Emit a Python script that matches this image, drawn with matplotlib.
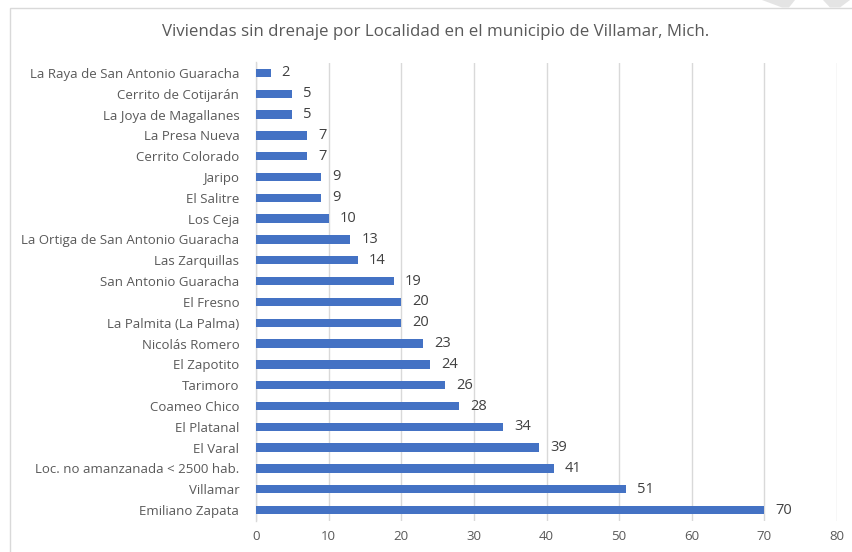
import matplotlib
matplotlib.use("Agg")
import matplotlib.pyplot as plt
from matplotlib.patches import Rectangle, Polygon

categories = [
    "La Raya de San Antonio Guaracha", "Cerrito de Cotijarán", "La Joya de Magallanes",
    "La Presa Nueva", "Cerrito Colorado", "Jaripo", "El Salitre", "Los Ceja",
    "La Ortiga de San Antonio Guaracha", "Las Zarquillas", "San Antonio Guaracha",
    "El Fresno", "La Palmita (La Palma)", "Nicolás Romero", "El Zapotito", "Tarimoro",
    "Coameo Chico", "El Platanal", "El Varal", "Loc. no amanzanada < 2500 hab.",
    "Villamar", "Emiliano Zapata",
]
values = [2, 5, 5, 7, 7, 9, 9, 10, 13, 14, 19, 20, 20, 23, 24, 26, 28, 34, 39, 41, 51, 70]
xticks = [0, 10, 20, 30, 40, 50, 60, 70, 80]
title = "Viviendas sin drenaje por Localidad en el municipio de Villamar, Mich."

plt.rcParams['font.family'] = ['Open Sans', 'DejaVu Sans']

W, H = 853, 552
fig = plt.figure(figsize=(W / 100, H / 100), dpi=100)

# chart border
fig.patches.append(Rectangle((10 / W, -0.1), 1.2, 1 - 8 / H + 0.1, transform=fig.transFigure,
                             fill=False, edgecolor="#d9d9d9", linewidth=1.0))
# watermark fragments at top right
for pts in ([(762, 0), (795, 0), (789, 7.5), (782, 7.5)], [(823, 0), (850, 0), (840, 7.5), (830, 7.5)]):
    fig.patches.append(Polygon([(x / W, 1 - y / H) for x, y in pts], closed=True,
                               transform=fig.transFigure, facecolor="#e4e4e4", edgecolor="none"))

ax = fig.add_axes([256 / W, 1 - 520.5 / H, (837 - 256) / W, (520.5 - 62.5) / H])
y = list(range(len(categories)))
ax.barh(y, values, height=0.4, color="#4472c4", zorder=3)
ax.set_ylim(len(categories) - 0.5, -0.5)
ax.set_xlim(0, 80)
ax.set_xticks(xticks)
ax.set_yticks(y)
ax.set_yticklabels(categories, fontsize=9.5, color="#595959")
ax.set_xticklabels([str(t) for t in xticks], fontsize=9.5, color="#595959")
ax.tick_params(axis="x", length=0, pad=7)
ax.tick_params(axis="y", length=0, pad=12)
ax.grid(axis="x", color="#d9d9d9", linewidth=1.0, zorder=0)
for s in ["top", "right", "bottom"]:
    ax.spines[s].set_visible(False)
ax.spines["left"].set_color("#d9d9d9")
ax.spines["left"].set_linewidth(1.0)
ax.set_facecolor("none")

for yi, v in zip(y, values):
    ax.annotate(str(v), (v, yi), xytext=(8, 0), textcoords="offset points",
                va="center", ha="left", fontsize=10.5, color="#404040")

fig.text(436 / W, 1 - 32 / H, title, ha="center", va="center", fontsize=12.2, color="#595959")

fig.savefig("out.png", dpi=100)
